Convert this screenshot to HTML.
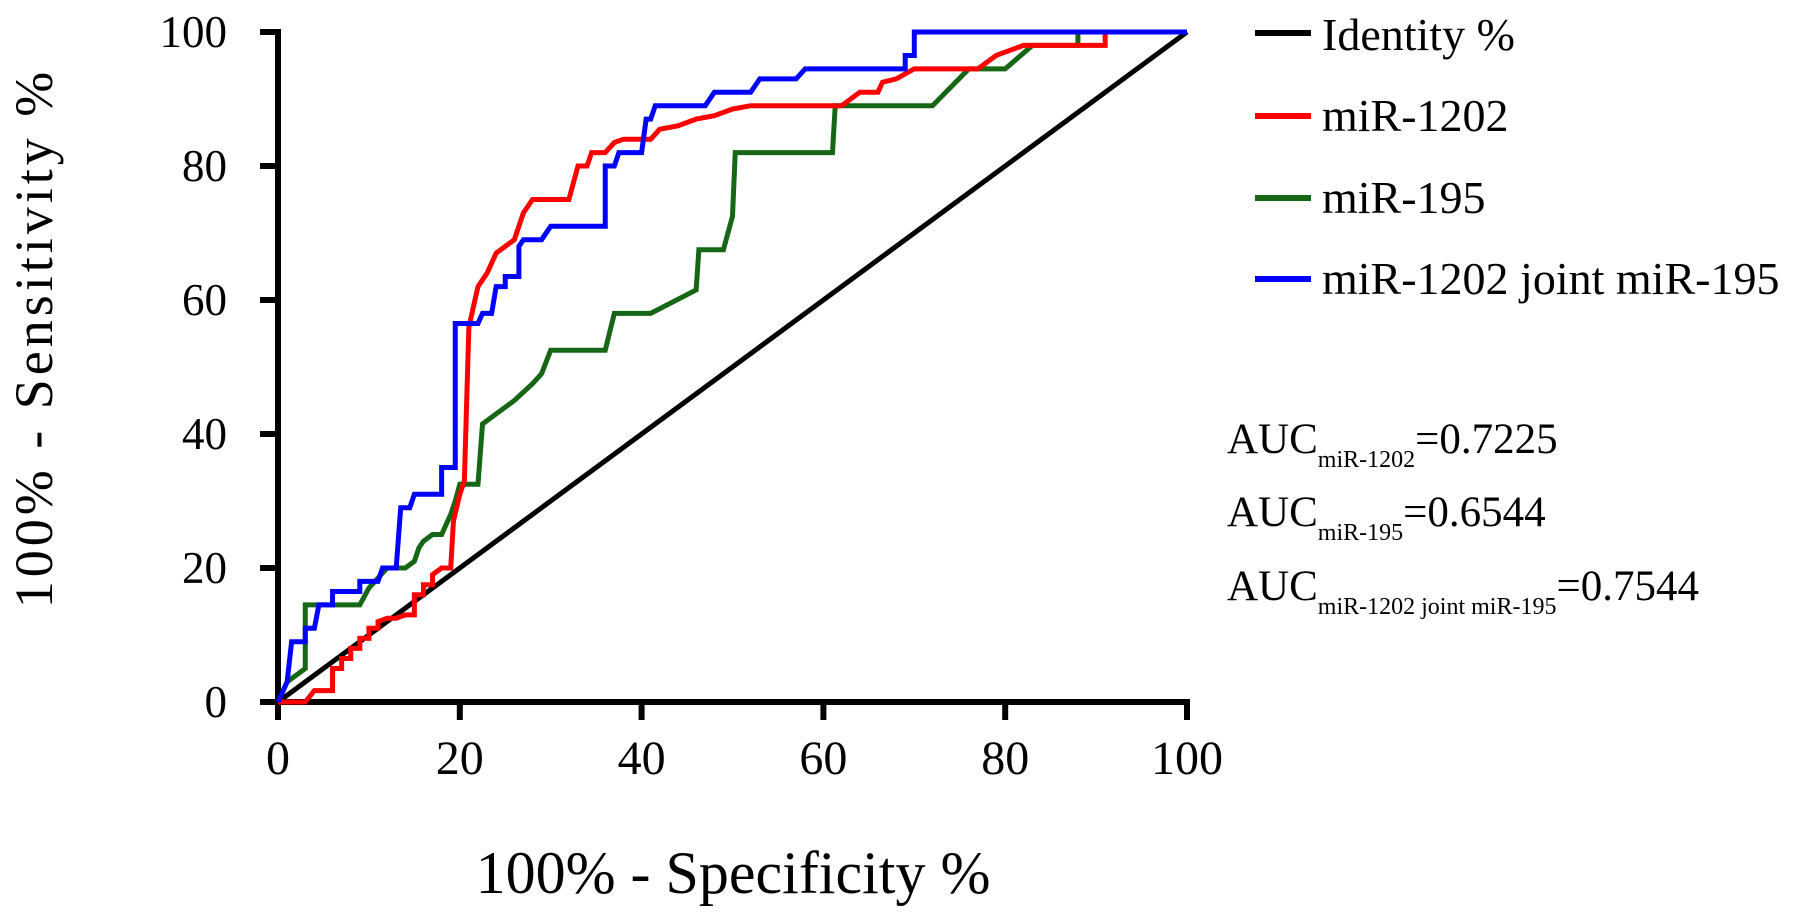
<!DOCTYPE html>
<html><head><meta charset="utf-8"><style>
body{margin:0;background:#fff}
svg{display:block;font-family:"Liberation Serif",serif}
</style></head><body>
<svg id="chart" width="1795" height="912" viewBox="0 0 1795 912">
<g id="axes"></g><g id="series"></g>
<text x="733" y="893" font-size="60" text-anchor="middle">100% - Specificity %</text>
<text transform="translate(52,338) rotate(-90)" font-size="54" letter-spacing="4" text-anchor="middle">100% - Sensitivity %</text>
<g font-size="46">
<line x1="1255" y1="33" x2="1311" y2="33" stroke="#000" stroke-width="6"/>
<text x="1322" y="50">Identity %</text>
<line x1="1255" y1="116" x2="1311" y2="116" stroke="#ff0000" stroke-width="6"/>
<text x="1322" y="131">miR-1202</text>
<line x1="1255" y1="198" x2="1311" y2="198" stroke="#156615" stroke-width="6"/>
<text x="1322" y="213">miR-195</text>
<line x1="1255" y1="279" x2="1311" y2="279" stroke="#0000ff" stroke-width="6"/>
<text x="1322" y="294">miR-1202 joint miR-195</text>
</g>
<g font-size="43">
<text x="1227" y="453">AUC<tspan font-size="24" dy="14">miR-1202</tspan><tspan dy="-14">=0.7225</tspan></text>
<text x="1227" y="526">AUC<tspan font-size="24" dy="14">miR-195</tspan><tspan dy="-14">=0.6544</tspan></text>
<text x="1227" y="600">AUC<tspan font-size="24" dy="14">miR-1202 joint miR-195</tspan><tspan dy="-14">=0.7544</tspan></text>
</g>
</svg>
<script>
const xTicks=[0,20,40,60,80,100];
const yTicks=[0,20,40,60,80,100];
const identityX=[0,100];
const identityY=[0,100];
const mir1202X=[0,3,4,6,6,7,7,8,8,9,9,10,10,11,11,12,13,14,15,15,16,16,17,17,18,19,19.3,20,20.5,21,22,23,24,26,27,28,32,33,34,34.5,36,37,38,41,42,44,46,48,50,52,62,63,64,66,66.5,68,70,77,79,82,91,91,100];
const mir1202Y=[0,0,1.7,1.7,5,5,6.5,6.5,8,8,9.5,9.5,11,11,12,12.5,12.5,13,13,16,16,17.5,17.5,19,20,20,27,31,33,56,62,64,67,69,73,75,75,80,80,82,82,83.5,84,84,85.5,86,87,87.5,88.5,89,89,90,91,91,92.5,93,94.5,94.5,96.5,98,98,100,100];
const mir195X=[0,1,2,3,3,9,10,11,12,14,15,15.5,16,17,18,19,19.5,20,22,22.5,24,26,28,29,30,36,37,41,46,46.3,49,50,50.3,61,61.3,72,76,80,83,88,88,100];
const mir195Y=[0,3,4,5,14.5,14.5,17,18.5,20,20,21,23,24,25,25,28,30,32.5,32.5,41.5,43,45,47.5,49,52.5,52.5,58,58,61.5,67.5,67.5,72.5,82,82,89,89,94.5,94.5,98,98,100,100];
const jointX=[0,1,1.5,3,3,4,4.5,6,6,9,9,11,11.5,13,13.5,14.5,15,18,18,19.5,19.5,22,22.5,23.5,24,25,25,26.5,26.5,27,29,30,36,36,37,37.5,40,40.5,41,41.5,47,48,52,53,57,58,69,69,70,70,100];
const jointY=[0,3,9,9,11,11,14.5,14.5,16.5,16.5,18,18,20,20,29,29,31,31,35,35,56.5,56.5,58,58,62,62,63.5,63.5,68,69,69,71,71,80,80,82,82,87,87,89,89,91,91,93,93,94.5,94.5,96.5,96.5,100,100];
const X0=278,X1=1187,Y0=702,Y1=32;
const sx=v=>X0+(X1-X0)*v/100, sy=v=>Y0-(Y0-Y1)*v/100;
const NS='http://www.w3.org/2000/svg';
const axes=document.getElementById('axes'), ser=document.getElementById('series');
function mk(tag,attrs,parent){const e=document.createElementNS(NS,tag);for(const k in attrs)e.setAttribute(k,attrs[k]);parent.appendChild(e);return e;}
let a=mk('line',{x1:X0,y1:Y0+3,x2:X0,y2:Y1-3,stroke:'#000','stroke-width':6},axes);


a=mk('line',{x1:X0-3,y1:Y0,x2:X1+3,y2:Y0,stroke:'#000','stroke-width':6},axes);


xTicks.forEach(t=>{
 const l=mk('line',{x1:sx(t),y1:Y0,x2:sx(t),y2:Y0+18,stroke:'#000','stroke-width':6},axes);
 
 
 const tx=mk('text',{x:sx(t),y:774,'font-size':48,'text-anchor':'middle'},axes);tx.textContent=t;
 
 
});
yTicks.forEach(t=>{
 const l=mk('line',{x1:X0-18,y1:sy(t),x2:X0,y2:sy(t),stroke:'#000','stroke-width':6},axes);
 
 
 const tx=mk('text',{x:227,y:sy(t)+15,'font-size':45,'text-anchor':'end'},axes);tx.textContent=t;
 
 
});
function line(xs,ys,color,name){
 const p=mk('polyline',{points:xs.map((x,i)=>sx(x)+','+sy(ys[i])).join(' '),fill:'none',stroke:color,'stroke-width':5,'stroke-linejoin':'miter'},ser);
 
 
}
line(identityX,identityY,'#000','identity-line');
line(mir195X,mir195Y,'#156615','mir195-curve');
line(mir1202X,mir1202Y,'#ff0000','mir1202-curve');
line(jointX,jointY,'#0000ff','joint-curve');
</script>
</body></html>
